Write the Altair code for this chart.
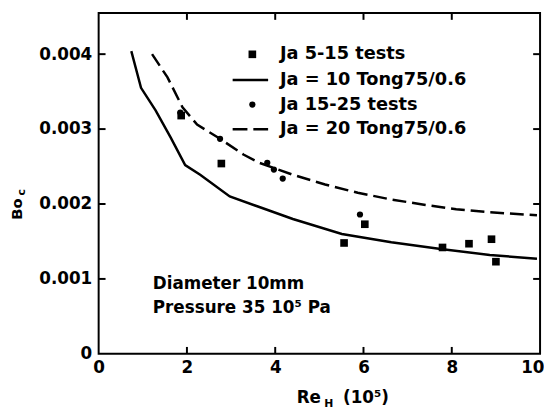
import altair as alt
import pandas as pd

# ---- data ----
re_ja5_15 = [1.87, 2.78, 5.56, 6.03, 7.79, 8.39, 8.90, 9.00]
bo_ja5_15 = [0.00318, 0.00254, 0.00148, 0.00173, 0.00142, 0.00147, 0.00153, 0.00123]

re_ja15_25 = [1.85, 2.75, 3.82, 3.97, 4.17, 5.92]
bo_ja15_25 = [0.00322, 0.00287, 0.00255, 0.00246, 0.00234, 0.00186]

re_tong10 = [0.74, 0.96, 1.29, 1.63, 1.96, 2.30, 2.97, 3.64, 4.40, 5.51, 6.63, 7.75, 8.86, 9.93]
bo_tong10 = [0.00404, 0.00355, 0.00325, 0.00289, 0.00252, 0.00239, 0.00210, 0.00196,
             0.00180, 0.00160, 0.00149, 0.00140, 0.00132, 0.00127]

re_tong20 = [1.21, 1.56, 1.90, 2.23, 2.75, 3.28, 3.64, 4.40, 5.13, 5.87, 6.63, 7.37, 8.10, 8.86, 9.93]
bo_tong20 = [0.00400, 0.00369, 0.00329, 0.00306, 0.00287, 0.00266, 0.00255, 0.00239,
             0.00226, 0.00215, 0.00206, 0.00199, 0.00193, 0.00189, 0.00185]

legend_labels = ["Ja 5-15 tests", "Ja = 10 Tong75/0.6", "Ja 15-25 tests", "Ja = 20 Tong75/0.6"]
x_ticks = [0, 2, 4, 6, 8, 10]
y_ticks = [0, 0.001, 0.002, 0.003, 0.004]
note_lines = ["Diameter 10mm", "Pressure 35 10\u2075 Pa"]
x_title_parts = ["Re", "H", "(10\u2075)"]
y_title_parts = ["Bo", "c"]

# ---- styling ----
W, H = 448, 346
FONT = "DejaVu Sans"
FW = "bold"
FS = 17

xs = alt.Scale(domain=[0, 10], nice=False, zero=False)
ys = alt.Scale(domain=[0, 0.00455], nice=False, zero=False)

x_axis = alt.Axis(values=x_ticks, tickSize=0, domain=False, grid=False, title=None,
                  labelFont=FONT, labelFontSize=FS, labelFontWeight=FW, labelColor="black",
                  labelPadding=6, labelFlush=False,
                  labelAlign={"condition": {"test": "datum.value >= 10", "value": "right"},
                              "value": "center"},
                  labelOffset={"condition": {"test": "datum.value >= 10", "value": 4},
                               "value": 0})
y_axis = alt.Axis(values=y_ticks, tickSize=0, domain=False, grid=False, title=None,
                  labelFont=FONT, labelFontSize=FS, labelFontWeight=FW, labelColor="black",
                  labelPadding=7, labelFlush=False,
                  labelExpr="datum.value == 0 ? '0' : format(datum.value, '.3f')")


def X(field):
    return alt.X(field, scale=xs, axis=x_axis)


def Y(field):
    return alt.Y(field, scale=ys, axis=y_axis)


sq_df = pd.DataFrame({"re": re_ja5_15, "bo": bo_ja5_15})
dot_df = pd.DataFrame({"re": re_ja15_25, "bo": bo_ja15_25})
t10_df = pd.DataFrame({"re": re_tong10, "bo": bo_tong10})
t20_df = pd.DataFrame({"re": re_tong20, "bo": bo_tong20})

squares = alt.Chart(sq_df).mark_point(shape="square", filled=True, size=60, color="black", opacity=1).encode(
    x=X("re:Q"), y=Y("bo:Q"))
dots = alt.Chart(dot_df).mark_point(shape="circle", filled=True, size=40, color="black", opacity=1).encode(
    x=X("re:Q"), y=Y("bo:Q"))
line10 = alt.Chart(t10_df).mark_line(color="black", strokeWidth=2.5, clip=True).encode(
    x=X("re:Q"), y=Y("bo:Q"), order="re:Q")
line20 = alt.Chart(t20_df).mark_line(color="black", strokeWidth=2.5, strokeDash=[14, 6], clip=True).encode(
    x=X("re:Q"), y=Y("bo:Q"), order="re:Q")

# inward ticks on all four sides
inner_x = [v for v in x_ticks if 0 < v < 10]
inner_y = [v for v in y_ticks if v > 0]
xt_df = pd.DataFrame({"v": inner_x})
yt_df = pd.DataFrame({"v": inner_y})
tick_left = alt.Chart(yt_df).mark_rule(color="black", strokeWidth=2).encode(
    y=Y("v:Q"), x=alt.value(0), x2=alt.value(7))
tick_right = alt.Chart(yt_df).mark_rule(color="black", strokeWidth=2).encode(
    y=Y("v:Q"), x=alt.value(W - 7), x2=alt.value(W))
tick_bottom = alt.Chart(xt_df).mark_rule(color="black", strokeWidth=2).encode(
    x=X("v:Q"), y=alt.value(H - 7), y2=alt.value(H))
tick_top = alt.Chart(xt_df).mark_rule(color="black", strokeWidth=2).encode(
    x=X("v:Q"), y=alt.value(0), y2=alt.value(7))

# legend (drawn by hand inside the plot)
leg_rows = [42, 68, 93, 118]
leg_sym_x = 156
leg_text_x = 184
one = lambda s: pd.DataFrame({"t": [s]})

leg_sq = alt.Chart(one(legend_labels[0])).mark_point(shape="square", filled=True, size=60, color="black", opacity=1).encode(
    x=alt.value(leg_sym_x), y=alt.value(leg_rows[0]))
leg_l10 = alt.Chart(one(legend_labels[1])).mark_rule(color="black", strokeWidth=2.5).encode(
    x=alt.value(leg_sym_x - 20), x2=alt.value(leg_sym_x + 16), y=alt.value(leg_rows[1]))
leg_dot = alt.Chart(one(legend_labels[2])).mark_point(shape="circle", filled=True, size=40, color="black", opacity=1).encode(
    x=alt.value(leg_sym_x), y=alt.value(leg_rows[2]))
leg_l20 = alt.Chart(one(legend_labels[3])).mark_rule(color="black", strokeWidth=2.5, strokeDash=[15, 6]).encode(
    x=alt.value(leg_sym_x - 20), x2=alt.value(leg_sym_x + 16), y=alt.value(leg_rows[3]))

leg_texts = []
for lbl, ry in zip(legend_labels, leg_rows):
    leg_texts.append(
        alt.Chart(one(lbl)).mark_text(align="left", baseline="middle", font=FONT, fontSize=18,
                                      fontWeight=FW, color="black").encode(
            text="t:N", x=alt.value(leg_text_x), y=alt.value(ry)))

# notes
note_texts = []
for i, s in enumerate(note_lines):
    note_texts.append(
        alt.Chart(one(s)).mark_text(align="left", baseline="middle", font=FONT, fontSize=FS,
                                    fontWeight=FW, color="black").encode(
            text="t:N", x=alt.value(55), y=alt.value(275 + 25 * i)))

# axis titles (with subscripts)
xt_main = alt.Chart(one(x_title_parts[0])).mark_text(align="left", baseline="middle", font=FONT, fontSize=FS,
                                                      fontWeight=FW, color="black").encode(
    text="t:N", x=alt.value(201), y=alt.value(H + 45))
xt_sub = alt.Chart(one(x_title_parts[1])).mark_text(align="left", baseline="middle", font=FONT, fontSize=11,
                                                     fontWeight=FW, color="black").encode(
    text="t:N", x=alt.value(229), y=alt.value(H + 51))
xt_tail = alt.Chart(one(x_title_parts[2])).mark_text(align="left", baseline="middle", font=FONT, fontSize=FS,
                                                      fontWeight=FW, color="black").encode(
    text="t:N", x=alt.value(248), y=alt.value(H + 45))

yt_main = alt.Chart(one(y_title_parts[0])).mark_text(align="center", baseline="middle", font=FONT, fontSize=15,
                                                      fontWeight=FW, color="black", angle=270).encode(
    text="t:N", x=alt.value(-83), y=alt.value(199))
yt_sub = alt.Chart(one(y_title_parts[1])).mark_text(align="center", baseline="middle", font=FONT, fontSize=11,
                                                     fontWeight=FW, color="black", angle=270).encode(
    text="t:N", x=alt.value(-78), y=alt.value(182))

chart = alt.layer(
    squares, dots, line10, line20,
    tick_left, tick_right, tick_bottom, tick_top,
    leg_sq, leg_l10, leg_dot, leg_l20, *leg_texts, *note_texts,
    xt_main, xt_sub, xt_tail, yt_main, yt_sub,
).properties(
    width=W, height=H,
    padding={"left": 92, "top": 2, "right": 4, "bottom": 56},
    autosize=alt.AutoSizeParams(type="none"),
    background="white",
).configure_view(
    stroke="black", strokeWidth=2,
)

chart.save("out.html", embed_options={"renderer": "svg", "actions": False})
